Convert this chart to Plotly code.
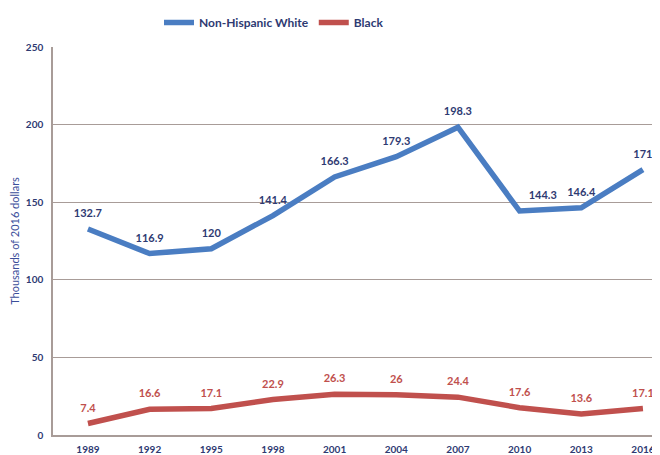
import plotly.graph_objects as go

years = [1989, 1992, 1995, 1998, 2001, 2004, 2007, 2010, 2013, 2016]
white = [132.7, 116.9, 120, 141.4, 166.3, 179.3, 198.3, 144.3, 146.4, 171]
black = [7.4, 16.6, 17.1, 22.9, 26.3, 26, 24.4, 17.6, 13.6, 17.1]
white_labels = ["132.7", "116.9", "120", "141.4", "166.3", "179.3", "198.3", "144.3", "146.4", "171"]
black_labels = ["7.4", "16.6", "17.1", "22.9", "26.3", "26", "24.4", "17.6", "13.6", "17.1"]
y_ticks = [0, 50, 100, 150, 200, 250]

FONT = "Lato"
blue = "#4A7DC2"
red = "#C0504D"
navy = "#2E3A72"
clear = "rgba(0,0,0,0)"

white_pos = ["top center"] * len(years)
white_pos[7] = "top right"

fig = go.Figure()
fig.add_trace(go.Scatter(
    x=years, y=white, mode="lines+markers+text", name="Non-Hispanic White",
    line=dict(color=blue, width=5.5),
    marker=dict(size=13, color=clear, line=dict(width=0)),
    text=white_labels, textposition=white_pos,
    textfont=dict(family=FONT, size=11, color=navy, weight="bold"),
    cliponaxis=False,
))
fig.add_trace(go.Scatter(
    x=years, y=black, mode="lines+markers+text", name="Black",
    line=dict(color=red, width=5.5),
    marker=dict(size=13, color=clear, line=dict(width=0)),
    text=black_labels, textposition="top center",
    textfont=dict(family=FONT, size=11, color=red, weight="bold"),
    cliponaxis=False,
))

fig.update_layout(
    width=652, height=447,
    margin=dict(l=45, r=0, t=39, b=17),
    paper_bgcolor="white", plot_bgcolor="white",
    font=dict(family=FONT, color=navy),
    legend=dict(orientation="h", x=0.1746, xanchor="left", y=1.0, yanchor="top",
                yref="container",
                font=dict(family=FONT, size=12, color=navy, weight="bold"),
                itemwidth=30, tracegroupgap=0),
    showlegend=True,
)
fig.update_xaxes(
    range=[1987.30, 2016.83], tickvals=years, ticktext=[str(y) for y in years],
    showgrid=False, zeroline=False, showline=True, linecolor="#A89C98", linewidth=1.5,
    tickfont=dict(family=FONT, size=10, color=navy, weight="bold"), ticks="",
    ticklabelstandoff=4,
)
fig.update_yaxes(
    range=[0, 250], tickvals=y_ticks, showgrid=True, gridcolor="#A89C98", gridwidth=1.2,
    zeroline=False, showline=True, linecolor="#A89C98", linewidth=1.5, mirror=False,
    tickfont=dict(family=FONT, size=10, color=navy, weight="bold"), ticks="",
    ticklabelstandoff=6,
    title=dict(text="Thousands of 2016 dollars", font=dict(family=FONT, size=11, color="#3B4E9A"), standoff=8),
)

fig.write_html("out.html")
